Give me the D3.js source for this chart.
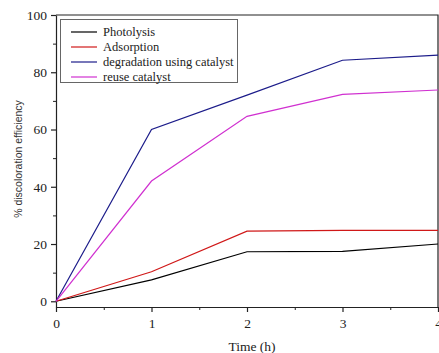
<!DOCTYPE html>
<html>
<head>
<meta charset="utf-8">
<script src="https://cdn.jsdelivr.net/npm/d3@7"></script>
<style>
  body { margin: 0; background: #fff; }
  svg { display: block; }
</style>
</head>
<body>
<svg id="chart" width="439" height="353"></svg>
<script>
// values
const times = [ 0, 1, 2, 3, 4 ];
const photolysis = [ 0, 7.5, 17.3, 17.4, 20 ];
const adsorption = [ 0, 10.3, 24.5, 24.8, 24.8 ];
const degradation = [ 0, 60, 72, 84.2, 86 ];
const reuse = [ 0, 42, 64.6, 72.3, 73.8 ];

const seriesNames = [ "Photolysis", "Adsorption", "degradation using catalyst", "reuse catalyst" ];
const seriesColors = [ "#000000", "#d01818", "#1c1c8a", "#d030d0" ];
const seriesValues = [ photolysis, adsorption, degradation, reuse ];

const yMajor = [ 0, 20, 40, 60, 80, 100 ];
const yMinor = [ 10, 30, 50, 70, 90 ];
const xMajor = [ 0, 1, 2, 3, 4 ];
const xMinor = [ 0.5, 1.5, 2.5, 3.5 ];

const svg = d3.select( "#chart" );
const serif = "'Liberation Serif', 'Times New Roman', Times, serif";

const x = d3.scaleLinear().domain( [ 0, 4 ] ).range( [ 56, 438 ] );
const y = d3.scaleLinear().domain( [ -2, 100 ] ).range( [ 307, 15 ] );

// frame (top and right)
svg.append( "path" )
  .attr( "d", `M${x( 0 )},${y( 100 )}H${x( 4 )}V${y( -2 )}` )
  .attr( "fill", "none" )
  .attr( "stroke", "#222" )
  .attr( "stroke-width", 1.2 );

// minor ticks first, then major axis on top
svg.append( "g" )
  .attr( "transform", `translate(${x( 0 )},0)` )
  .call( d3.axisLeft( y ).tickValues( yMinor ).tickSize( 3 ).tickFormat( "" ) )
  .call( g => g.select( ".domain" ).remove() );

svg.append( "g" )
  .attr( "transform", `translate(0,${y( -2 )})` )
  .call( d3.axisBottom( x ).tickValues( xMinor ).tickSize( 3 ).tickFormat( "" ) )
  .call( g => g.select( ".domain" ).remove() );

const yAxis = svg.append( "g" )
  .attr( "transform", `translate(${x( 0 )},0)` )
  .call( d3.axisLeft( y ).tickValues( yMajor ).tickFormat( d3.format( "d" ) )
    .tickSize( 5 ).tickSizeOuter( 0 ).tickPadding( 4 ) );

const xAxis = svg.append( "g" )
  .attr( "transform", `translate(0,${y( -2 )})` )
  .call( d3.axisBottom( x ).tickValues( xMajor ).tickFormat( d3.format( "d" ) )
    .tickSize( 5 ).tickSizeOuter( 0 ).tickPadding( 6 ) );

[ yAxis, xAxis ].forEach( g => {
  g.attr( "font-family", serif );
  g.selectAll( "text" )
    .style( "font-family", serif )
    .style( "font-size", "13.5px" )
    .attr( "fill", "#222" );
  g.selectAll( "line, path" ).attr( "stroke", "#222" ).attr( "stroke-width", 1.2 );
} );
svg.selectAll( "g line" ).attr( "stroke", "#222" );

// lines
const line = d3.line()
  .x( ( d, i ) => x( times[ i ] ) )
  .y( d => y( d ) );

svg.selectAll( "path.series" )
  .data( seriesValues )
  .enter().append( "path" )
    .attr( "class", "series" )
    .attr( "d", line )
    .attr( "fill", "none" )
    .attr( "stroke", ( d, i ) => seriesColors[ i ] )
    .attr( "stroke-width", 1.2 );

// axis titles
svg.append( "text" )
  .attr( "x", 252 )
  .attr( "y", 351 )
  .attr( "text-anchor", "middle" )
  .style( "font-family", serif )
  .style( "font-size", "13.5px" )
  .attr( "fill", "#222" )
  .text( "Time (h)" );

svg.append( "text" )
  .attr( "transform", "translate(22,159) rotate(-90)" )
  .attr( "text-anchor", "middle" )
  .style( "font-family", "'Liberation Sans', Arial, sans-serif" )
  .style( "font-size", "10.5px" )
  .attr( "fill", "#333" )
  .text( "% discoloration efficiency" );

// legend
const legend = svg.append( "g" );
legend.append( "rect" )
  .attr( "x", 60.5 ).attr( "y", 19.5 )
  .attr( "width", 177 ).attr( "height", 63 )
  .attr( "fill", "#fff" )
  .attr( "stroke", "#666" );

const rows = legend.selectAll( "g.row" )
  .data( seriesNames )
  .enter().append( "g" )
    .attr( "class", "row" )
    .attr( "transform", ( d, i ) => `translate(0,${32 + i * 15})` );

rows.append( "line" )
  .attr( "x1", 71 ).attr( "x2", 97 )
  .attr( "stroke", ( d, i ) => seriesColors[ i ] )
  .attr( "stroke-width", 1.2 );

rows.append( "text" )
  .attr( "x", 103 )
  .attr( "dy", "0.35em" )
  .style( "font-family", serif )
  .style( "font-size", "12.5px" )
  .attr( "fill", "#222" )
  .text( d => d );
</script>
</body>
</html>
